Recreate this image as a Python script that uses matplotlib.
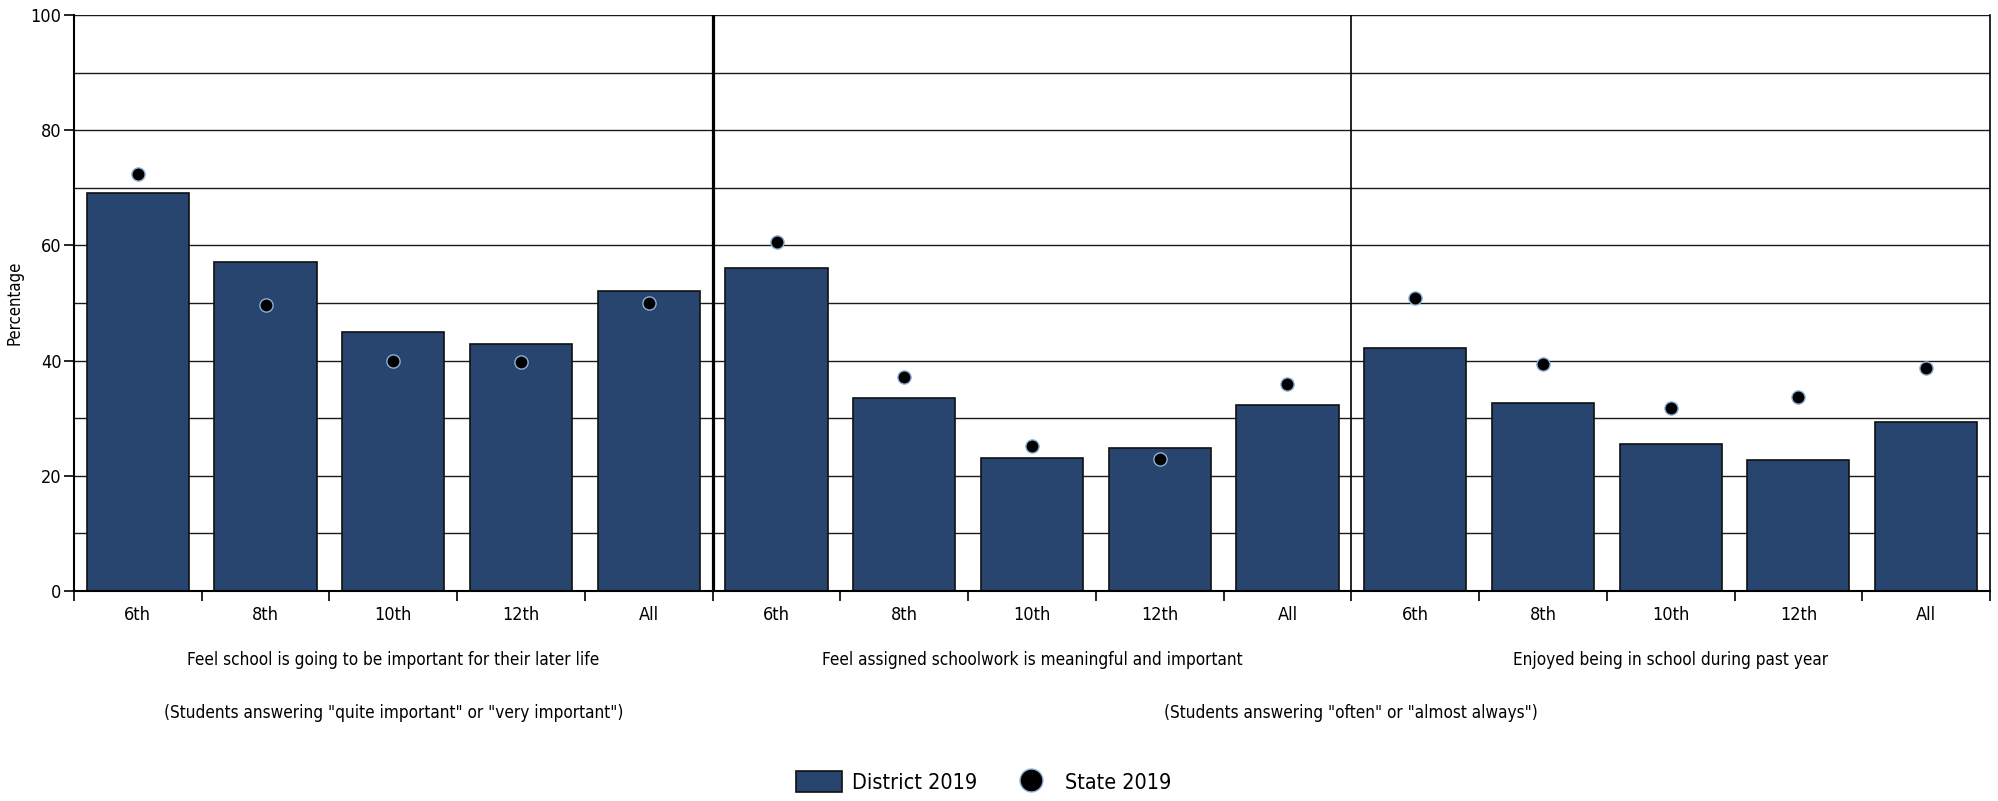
import numpy as np
import matplotlib
matplotlib.use("Agg")
import matplotlib.pyplot as plt
from matplotlib.patches import Patch
from matplotlib.lines import Line2D

plt.rcParams['font.family'] = ['DejaVu Sans']
plt.rcParams['font.stretch'] = 'condensed'

# data
grades = ['6th', '8th', '10th', '12th', 'All']
groups = ['Feel school is going to be important for their later life',
          'Feel assigned schoolwork is meaningful and important',
          'Enjoyed being in school during past year']
notes = ['(Students answering "quite important" or "very important")',
         '(Students answering "often" or "almost always")']
district_2019 = [69.1, 57.2, 45.0, 42.9, 52.0,
                 56.1, 33.5, 23.1, 24.9, 32.3,
                 42.1, 32.6, 25.5, 22.8, 29.3]
state_2019 = [72.4, 49.6, 40.0, 39.7, 50.0,
              60.6, 37.1, 25.2, 22.9, 36.0,
              50.9, 39.4, 31.8, 33.7, 38.7]

bar_color = '#27456f'
n_grades = len(grades)
x = np.arange(len(district_2019))

fig = plt.figure(figsize=(19.99, 8.01), dpi=100)
ax = fig.add_axes([0.037, 0.2622, 0.9585, 0.7191])

# horizontal grid every 10
for v in range(10, 101, 10):
    ax.axhline(v, color='#1a1a1a', linewidth=1.0, zorder=1)

ax.bar(x, district_2019, width=0.8, color=bar_color, edgecolor='#111111',
       linewidth=1.2, zorder=2)
ax.plot(x, state_2019, linestyle='none', marker='o', markersize=9.5,
        markerfacecolor='black', markeredgecolor='#8fb0d8',
        markeredgewidth=1.0, zorder=3)

# group separators
ax.axvline(n_grades - 0.5, color='black', linewidth=2.3, zorder=4)
ax.axvline(2 * n_grades - 0.5, color='black', linewidth=1.2, zorder=4)

ax.set_xlim(-0.5, len(x) - 0.5)
ax.set_ylim(0, 100)
ax.set_yticks(range(0, 101, 20))
ax.tick_params(axis='y', length=7, width=1.2, labelsize=13, pad=2)

ax.set_xticks(x)
ax.set_xticklabels(grades * len(groups), fontsize=13)
ax.set_xticks(np.arange(-0.5, len(x), 1.0), minor=True)
ax.tick_params(axis='x', which='major', length=0, pad=11)
ax.tick_params(axis='x', which='minor', length=7, width=1.2)

for side in ['left', 'bottom']:
    ax.spines[side].set_linewidth(1.5)
ax.spines['right'].set_linewidth(1.2)
ax.spines['top'].set_visible(False)

ax.set_ylabel('Percentage', fontsize=12, labelpad=5)

tr = ax.get_xaxis_transform()
for i, g in enumerate(groups):
    ax.text(i * n_grades + (n_grades - 1) / 2, -0.119, g, transform=tr,
            ha='center', va='center', fontsize=12.3)
ax.text((n_grades - 1) / 2, -0.211, notes[0], transform=tr,
        ha='center', va='center', fontsize=12.3)
ax.text(2 * n_grades - 0.5, -0.211, notes[1], transform=tr,
        ha='center', va='center', fontsize=12.3)

handles = [Patch(facecolor=bar_color, edgecolor='#111111', linewidth=1.2,
                 label='District 2019'),
           Line2D([], [], linestyle='none', marker='o', markersize=16.5,
                  markerfacecolor='black', markeredgecolor='#8fb0d8',
                  markeredgewidth=1.0, label='State 2019')]
fig.legend(handles=handles, loc='center', bbox_to_anchor=(0.492, 0.024),
           ncol=2, frameon=False, fontsize=15.5, handlelength=2.14,
           handleheight=1.16, columnspacing=1.43, handletextpad=0.47)

fig.savefig('out.png', dpi=100)
